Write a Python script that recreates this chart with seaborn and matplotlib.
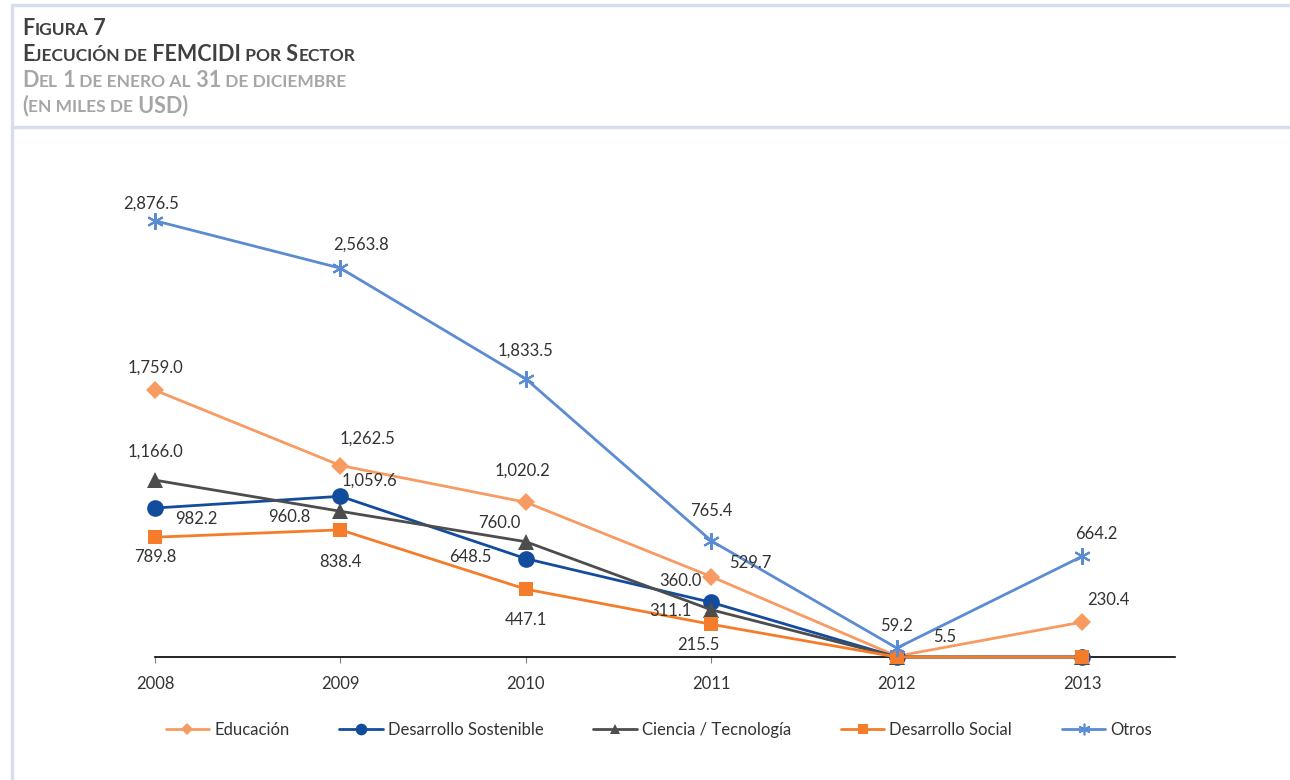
import numpy as np
import pandas as pd
import matplotlib
matplotlib.use("Agg")
import matplotlib.pyplot as plt
import seaborn as sns
from matplotlib.lines import Line2D

# data (miles de USD)
years = [2008, 2009, 2010, 2011, 2012, 2013]
sectors = ["Educación", "Desarrollo Sostenible", "Ciencia / Tecnología",
           "Desarrollo Social", "Otros"]
educacion = [1759.0, 1262.5, 1020.2, 529.7, 5.5, 230.4]
des_sostenible = [982.2, 1059.6, 648.5, 360.0, 0.0, 0.0]
ciencia_tec = [1166.0, 960.8, 760.0, 311.1, 0.0, 0.0]
des_social = [789.8, 838.4, 447.1, 215.5, 0.0, 0.0]
otros = [2876.5, 2563.8, 1833.5, 765.4, 59.2, 664.2]

series = [educacion, des_sostenible, ciencia_tec, des_social, otros]

# label offsets in pixels (dx, dy), per sector and year
label_offsets = {
    "Educación": [(0, 23), (27, 27), (-3, 32), (39, 14), (48, 19), (26, 22)],
    "Desarrollo Sostenible": [(41, -11), (29, 16), (-56, 2), (-31, 21), None, None],
    "Ciencia / Tecnología": [(0, 29), (-51, -6), (-27, 19), (-41, -1), None, None],
    "Desarrollo Social": [(0, -20), (0, -32), (0, -31), (-13, -21), None, None],
    "Otros": [(-4, 17), (21, 24), (0, 28), (0, 30), (0, 22), (14, 22)],
}

colors = {
    "Educación": "#F79B62",
    "Desarrollo Sostenible": "#124C9C",
    "Ciencia / Tecnología": "#4D4D4D",
    "Desarrollo Social": "#F47C2A",
    "Otros": "#5B8BD2",
}
markers = {
    "Educación": "D",
    "Desarrollo Sostenible": "o",
    "Ciencia / Tecnología": "^",
    "Desarrollo Social": "s",
    "Otros": (6, 2, 0),
}
msizes = {
    "Educación": 9,
    "Desarrollo Sostenible": 12,
    "Ciencia / Tecnología": 11,
    "Desarrollo Social": 10,
    "Otros": 12,
}

df = pd.DataFrame({
    "year": np.tile(years, len(sectors)),
    "sector": np.repeat(sectors, len(years)),
    "value": np.concatenate(series),
})

sns.set_style("white")
plt.rcParams["font.family"] = ["Lato", "DejaVu Sans"]

W, H = 1290, 780
fig = plt.figure(figsize=(W / 100, H / 100), dpi=100)
ax = fig.add_axes([155 / W, 1 - 657 / H, (1175 - 155) / W, (657 - 202) / H])

for s in sectors:
    sub = df[df["sector"] == s]
    sns.lineplot(data=sub, x="year", y="value", ax=ax, color=colors[s],
                 marker=markers[s], markersize=msizes[s], linewidth=2,
                 markeredgewidth=1.5 if s == "Otros" else 0,
                 markeredgecolor=colors[s], errorbar=None, legend=False,
                 clip_on=False)

text_col = "#333333"
for s, vals in zip(sectors, series):
    for yr, v, off in zip(years, vals, label_offsets[s]):
        if off is None:
            continue
        ax.annotate(f"{v:,.1f}", (yr, v), xytext=off, textcoords="offset pixels",
                    ha="center", va="center", fontsize=12, color=text_col)

ax.set_xlim(2008, 2013.5)
ax.set_ylim(0, 3000)
ax.set_xticks(years)
ax.set_xticklabels([str(y) for y in years], fontsize=12, color=text_col)
ax.set_yticks([])
ax.set_xlabel("")
ax.set_ylabel("")
for sp in ["top", "right", "left"]:
    ax.spines[sp].set_visible(False)
ax.spines["bottom"].set_color("black")
ax.spines["bottom"].set_linewidth(1.2)
ax.spines["bottom"].set_zorder(1)
ax.tick_params(axis="x", length=4, width=0.8, color="#808080", pad=10, bottom=True)
ax.patch.set_alpha(0)

# legend
handles = [Line2D([0], [0], color=colors[s], marker=markers[s], lw=2,
                  markersize=msizes[s] * 0.7, markeredgewidth=1.2 if s == "Otros" else 0,
                  markeredgecolor=colors[s]) for s in sectors]
fig.legend(handles, sectors, loc="center", bbox_to_anchor=(659 / W, 1 - 730 / H),
           ncol=5, frameon=False, fontsize=12, handlelength=2.6, handletextpad=0.3,
           columnspacing=3.0, labelcolor=text_col)

# frame lines
frame_col = "#D5DEEA"
fig.add_artist(Line2D([12 / W, 12 / W], [0, 1 - 5 / H], color=frame_col, lw=2.5))
fig.add_artist(Line2D([12 / W, 1], [1 - 5 / H, 1 - 5 / H], color=frame_col, lw=2.5))
fig.add_artist(Line2D([12 / W, 1], [1 - 127 / H, 1 - 127 / H], color=frame_col, lw=2.5))

# title in small caps
renderer = fig.canvas.get_renderer()


def small_caps(x_px, base_px, runs, color, big=15.5, small=12.5):
    x = x_px
    for txt, is_big in runs:
        t = fig.text(x / W, 1 - base_px / H, txt.upper(), fontsize=big if is_big else small,
                     fontweight="bold", color=color, va="baseline", ha="left")
        bb = t.get_window_extent(renderer=renderer)
        x = bb.x1


dark = "#404040"
grey = "#A6A6A6"
small_caps(22, 35, [("F", True), ("igura", False), (" 7", True)], dark)
small_caps(22, 61, [("E", True), ("jecución de", False), (" FEMCIDI", True),
                    (" por", False), (" S", True), ("ector", False)], dark)
small_caps(22, 87, [("D", True), ("el", False), (" 1", True), (" de enero al", False),
                    (" 31", True), (" de diciembre", False)], grey)
small_caps(22, 112, [("(", True), ("en miles de", False), (" USD)", True)], grey)

fig.savefig("out.png", dpi=100)
